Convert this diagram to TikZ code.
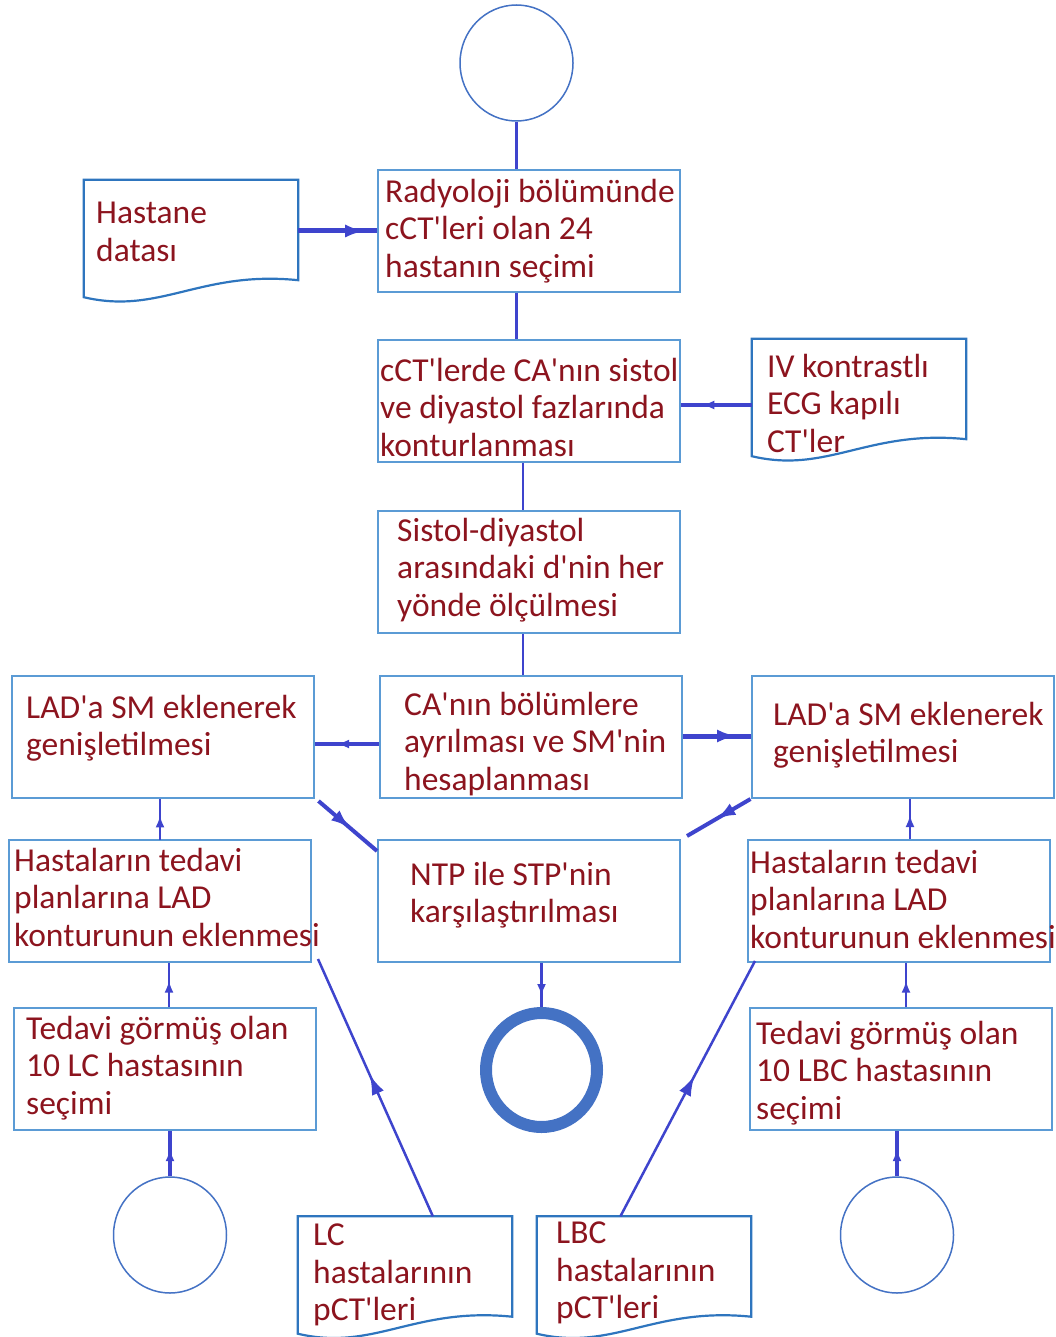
\documentclass[tikz,border=0pt]{standalone}
\usepackage{fontspec}
\setmainfont{Carlito}
\usetikzlibrary{calc,arrows.meta,shapes.geometric,decorations.markings}
\definecolor{boxblue}{RGB}{91,155,213}
\definecolor{docblue}{RGB}{46,117,190}
\definecolor{linkblue}{RGB}{62,68,205}
\definecolor{ringblue}{RGB}{68,114,196}
\definecolor{txtred}{RGB}{140,20,30}
\newcommand{\ap}{\textquotesingle}
\newcommand{\drawdoc}[1]{%
  \draw[docline] (#1.north west) -- (#1.north east) -- ($(#1.south east)+(0,-17)$)
    .. controls ($(#1.south east)+(-98,-27)$) and ($(#1.south west)+(76,18)$) .. (#1.south west) -- cycle;}
\begin{document}
\begin{tikzpicture}[x=1pt,y=-1pt,
  box/.style={draw=boxblue,line width=2pt,rectangle,inner sep=0,minimum width=302,minimum height=122},
  docarea/.style={rectangle,inner sep=0,minimum width=214,minimum height=117},
  docline/.style={draw=docblue,line width=2.2pt},
  txt/.style={anchor=west,align=left,inner sep=0,text=txtred,font=\fontsize{33.5}{37.5}\selectfont},
  endpt/.style={ellipse,draw=ringblue,line width=1.5pt,minimum width=113,minimum height=116},
  link/.style={draw=linkblue,line width=2.5pt},
  heavy/.style={draw=linkblue,line width=5pt},
  midarrow/.style={postaction={decorate},decoration={markings,mark=at position #1 with {\arrow{Latex[length=12pt,width=9pt]}}}},
  bigarrow/.style={postaction={decorate},decoration={markings,mark=at position #1 with {\arrow{Latex[length=20pt,width=13pt]}}}}]
\useasboundingbox (0,0) rectangle (1056,1337);

\node[endpt] (start) at (516.5,63) {};
\node[box] (sel) at (529,231) {};
\node[txt] (selT) at (385,231) {Radyoloji bölümünde\\cCT\ap leri olan 24\\hastanın seçimi};
\node[docarea] (hosp) at (191,238.5) {};
\node[txt] (hospT) at (96,232) {Hastane\\datası};
\node[box] (cont) at (529,400.5) {};
\node[txt] (contT) at (380,407) {cCT\ap lerde CA\ap nın sistol\\ve diyastol fazlarında\\konturlanması};
\node[docarea] (iv) at (859,397.5) {};
\node[txt] (ivT) at (767,403) {IV kontrastlı\\ECG kapılı\\CT\ap ler};
\node[box] (meas) at (529,572) {};
\node[txt] (measT) at (397,570) {Sistol-diyastol\\arasındaki d\ap nin her\\yönde ölçülmesi};
\node[box] (seg) at (531,737) {};
\node[txt] (segT) at (404,744) {CA\ap nın bölümlere\\ayrılması ve SM\ap nin\\hesaplanması};
\node[box] (ladL) at (162.5,737) {};
\node[txt] (ladLT) at (26,728) {LAD\ap a SM eklenerek\\genişletilmesi};
\node[box] (ladR) at (902.5,737) {};
\node[txt] (ladRT) at (773,735) {LAD\ap a SM eklenerek\\genişletilmesi};
\node[box] (ntp) at (529,901) {};
\node[txt] (ntpT) at (410,895) {NTP ile STP\ap nin\\karşılaştırılması};
\node[box] (hastL) at (160,901) {};
\node[txt] (hastLT) at (14,897) {Hastaların tedavi\\planlarına LAD\\konturunun eklenmesi};
\node[box] (hastR) at (899,901) {};
\node[txt] (hastRT) at (750,899) {Hastaların tedavi\\planlarına LAD\\konturunun eklenmesi};
\node[box] (tedL) at (165,1069) {};
\node[txt] (tedLT) at (26,1068) {Tedavi görmüş olan\\10 LC hastasının\\seçimi};
\node[box] (tedR) at (901,1069) {};
\node[txt] (tedRT) at (756,1073) {Tedavi görmüş olan\\10 LBC hastasının\\seçimi};
\node[ellipse,draw=ringblue,line width=12pt,minimum width=111,minimum height=114] (ring) at (541.5,1070) {};
\node[endpt] (circL) at (170,1235) {};
\node[endpt] (circR) at (897,1235) {};
\node[docarea] (lc) at (405,1275) {};
\node[txt] (lcT) at (313,1275) {LC\\hastalarının\\pCT\ap leri};
\node[docarea] (lbc) at (644,1275) {};
\node[txt] (lbcT) at (556,1273) {LBC\\hastalarının\\pCT\ap leri};

\drawdoc{hosp}
\drawdoc{iv}
\drawdoc{lc}
\drawdoc{lbc}

\draw[link] (start.south) -- (start.south |- sel.north);
\draw[heavy,bigarrow=0.85] (hosp.east |- sel.west) -- (sel.west);
\draw[link] (start.south |- sel.south) -- (start.south |- cont.north);
\draw[link,line width=3.5pt,midarrow=0.7] (iv.west |- 0,405) -- (cont.east |- 0,405);
\draw[link] ([xshift=-6pt]cont.south) -- ([xshift=-6pt]meas.north);
\draw[link] ([xshift=-6pt]meas.south) -- ([xshift=-8pt]seg.north);
\draw[link,line width=3.5pt,midarrow=0.65] (seg.west |- 0,744) -- (ladL.east |- 0,744);
\draw[heavy,bigarrow=0.8] (seg.east |- 0,736) -- (ladR.west |- 0,736);
\draw[link,line width=4pt,bigarrow=0.55] ([shift={(4,2)}]ladL.south east) -- ([yshift=-12pt]ntp.north west);
\draw[link,line width=4pt,bigarrow=0.55] (ladR.south west) -- ([shift={(6,-3)}]ntp.north east);
\draw[link,midarrow=0.6] (hastL.north |- 0,840) -- (hastL.north |- ladL.south);
\draw[link,midarrow=0.6] ([xshift=11pt]hastR.north) -- ([xshift=11pt]hastR.north |- ladR.south);
\draw[link,midarrow=0.6] ([xshift=4pt]tedL.north) -- ([xshift=9pt]hastL.south);
\draw[link,midarrow=0.6] ([xshift=5pt]tedR.north) -- ([xshift=7pt]hastR.south);
\draw[link,line width=3.5pt,midarrow=0.6] (circL.north) -- (circL.north |- tedL.south);
\draw[link,line width=3.5pt,midarrow=0.6] (circR.north) -- (circR.north |- tedR.south);
\draw[link,midarrow=0.75] (ntp.south -| ring.north) -- (ring.north);
\draw[link,bigarrow=0.55] ($(lc.north west)!0.63!(lc.north east)$) -- ([shift={(6,-4)}]hastL.south east);
\draw[link,bigarrow=0.55] ($(lbc.north west)!0.39!(lbc.north east)$) -- ([shift={(8,-2)}]hastR.south west);
\end{tikzpicture}
\end{document}
